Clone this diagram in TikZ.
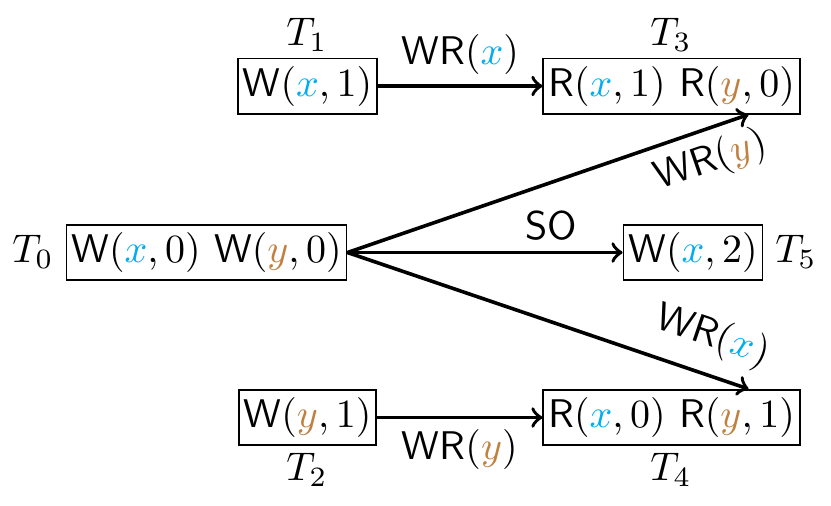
\documentclass[tikz,border=0pt]{standalone}
\usetikzlibrary{positioning}
\definecolor{xcol}{RGB}{0,174,239}
\definecolor{ycol}{RGB}{191,128,64}
\newcommand{\vx}{\textcolor{xcol}{x}}
\newcommand{\vy}{\textcolor{ycol}{y}}
\newcommand{\opW}{\textsf{W}}
\newcommand{\opR}{\textsf{R}}
\newcommand{\WR}{\textsf{WR}}
\begin{document}
\begin{tikzpicture}[x=0.25pt,y=-0.25pt,
  tbox/.style={draw, line width=0.45pt, inner xsep=1.2pt, inner ysep=1.9pt, text height=7.5pt, text depth=2.5pt},
  tlab/.style={inner sep=0pt},
  arr/.style={->, line width=0.9pt},
  elab/.style={inner sep=2.5pt}]
\useasboundingbox (0,0) rectangle (831,505);
\node[tbox] (t0) at (206.5,252.5) {$\opW(\vx,0)\ \opW(\vy,0)$};
\node[tbox] (t1) at (307.5,86) {$\opW(\vx,1)$};
\node[tbox] (t3) at (671.5,86) {$\opR(\vx,1)\ \opR(\vy,0)$};
\node[tbox] (t5) at (693,252.5) {$\opW(\vx,2)$};
\node[tbox] (t2) at (307.5,417.5) {$\opW(\vy,1)$};
\node[tbox] (t4) at (671.5,417.5) {$\opR(\vx,0)\ \opR(\vy,1)$};
\node[tlab] (l0) at (33,252) {$T_0$};
\node[tlab] (l1) at (307,35) {$T_1$};
\node[tlab] (l3) at (671,35) {$T_3$};
\node[tlab] (l5) at (796,252) {$T_5$};
\node[tlab] (l2) at (307,470) {$T_2$};
\node[tlab] (l4) at (671,470) {$T_4$};
\coordinate (e3) at ([xshift=-13pt]t3.south east);
\coordinate (e4) at ([xshift=-13pt]t4.north east);
\draw[arr] (t1) -- node[elab, above] {$\WR(\vx)$} (t3);
\draw[arr] (t2) -- node[elab, below] {$\WR(\vy)$} (t4);
\draw[arr] (t0.east) -- node[elab, above, pos=0.74] {\textsf{SO}} (t5.west);
\draw[arr] (t0.east) -- node[elab, below, sloped, pos=0.88] {$\WR(\vy)$} (e3);
\draw[arr] (t0.east) -- node[elab, above, sloped, pos=0.88, inner sep=4pt] {$\WR(\vx)$} (e4);
\end{tikzpicture}
\end{document}
